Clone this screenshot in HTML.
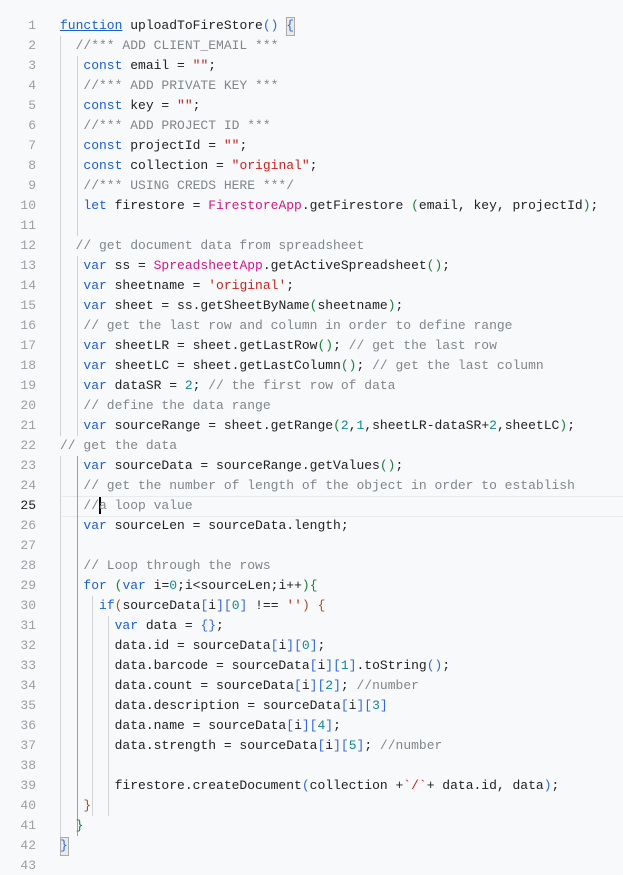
<!DOCTYPE html>
<html><head><meta charset="utf-8"><style>
html,body{margin:0;padding:0;background:#f8f9fa;width:623px;height:875px;overflow:hidden;position:relative}
.l{position:absolute;left:60px;height:20px;line-height:20px;font-family:"Liberation Mono",monospace;font-size:13px;white-space:pre;color:#202124}
.n{position:absolute;left:0;width:36px;text-align:right;height:20px;line-height:20px;font-family:"Liberation Mono",monospace;font-size:13px;color:#9aa0a6}
.k{color:#1a5fd0}.s{color:#c5221f}.m{color:#12858f}.c{color:#80868b}.g{color:#188038}.b{color:#3367d6}.r{color:#a0522d}.p{color:#d01884}
.v{position:absolute;width:1px;background:#d0d3d6}
</style></head><body>
<div style="position:absolute;left:62px;right:0;top:496px;height:19px;border-top:1px solid #e8eaed;border-bottom:1px solid #e8eaed"></div>
<div class="v" style="left:60px;top:36px;height:400px"></div>
<div class="v" style="left:60px;top:456px;height:400px"></div>
<div class="v" style="left:77px;top:56px;height:180px"></div>
<div class="v" style="left:77px;top:256px;height:180px"></div>
<div class="v" style="left:77px;top:456px;height:380px;background:#9aa0a6"></div>
<div class="v" style="left:92px;top:596px;height:220px"></div>
<div class="v" style="left:108px;top:616px;height:200px"></div>
<div style="position:absolute;left:99px;top:497px;width:2px;height:17px;background:#000"></div>
<div style="position:absolute;left:286px;top:17px;width:7px;height:17px;border:1px solid #aaa;background:#e8eaed"></div>
<div style="position:absolute;left:60px;top:837px;width:7px;height:17px;border:1px solid #aaa;background:#e8eaed"></div>

<div class="n" style="top:16px">1</div><div class="l" style="top:16px"><span class="k" style="text-decoration:underline">function</span> uploadToFireStore<span class="b">()</span> <span class="b">{</span></div>
<div class="n" style="top:36px">2</div><div class="l" style="top:36px"><span class="c">  //*** ADD CLIENT_EMAIL ***</span></div>
<div class="n" style="top:56px">3</div><div class="l" style="top:56px">   <span class="k">const</span> email = <span class="s">""</span>;</div>
<div class="n" style="top:76px">4</div><div class="l" style="top:76px"><span class="c">   //*** ADD PRIVATE KEY ***</span></div>
<div class="n" style="top:96px">5</div><div class="l" style="top:96px">   <span class="k">const</span> key = <span class="s">""</span>;</div>
<div class="n" style="top:116px">6</div><div class="l" style="top:116px"><span class="c">   //*** ADD PROJECT ID ***</span></div>
<div class="n" style="top:136px">7</div><div class="l" style="top:136px">   <span class="k">const</span> projectId = <span class="s">""</span>;</div>
<div class="n" style="top:156px">8</div><div class="l" style="top:156px">   <span class="k">const</span> collection = <span class="s">"original"</span>;</div>
<div class="n" style="top:176px">9</div><div class="l" style="top:176px"><span class="c">   //*** USING CREDS HERE ***/</span></div>
<div class="n" style="top:196px">10</div><div class="l" style="top:196px">   <span class="k">let</span> firestore = <span class="p">FirestoreApp</span>.getFirestore <span class="g">(</span>email, key, projectId<span class="g">)</span>;</div>
<div class="n" style="top:216px">11</div>
<div class="n" style="top:236px">12</div><div class="l" style="top:236px"><span class="c">  // get document data from spreadsheet</span></div>
<div class="n" style="top:256px">13</div><div class="l" style="top:256px">   <span class="k">var</span> ss = <span class="p">SpreadsheetApp</span>.getActiveSpreadsheet<span class="g">()</span>;</div>
<div class="n" style="top:276px">14</div><div class="l" style="top:276px">   <span class="k">var</span> sheetname = <span class="s">'original'</span>;</div>
<div class="n" style="top:296px">15</div><div class="l" style="top:296px">   <span class="k">var</span> sheet = ss.getSheetByName<span class="g">(</span>sheetname<span class="g">)</span>;</div>
<div class="n" style="top:316px">16</div><div class="l" style="top:316px"><span class="c">   // get the last row and column in order to define range</span></div>
<div class="n" style="top:336px">17</div><div class="l" style="top:336px">   <span class="k">var</span> sheetLR = sheet.getLastRow<span class="g">()</span>; <span class="c">// get the last row</span></div>
<div class="n" style="top:356px">18</div><div class="l" style="top:356px">   <span class="k">var</span> sheetLC = sheet.getLastColumn<span class="g">()</span>; <span class="c">// get the last column</span></div>
<div class="n" style="top:376px">19</div><div class="l" style="top:376px">   <span class="k">var</span> dataSR = <span class="m">2</span>; <span class="c">// the first row of data</span></div>
<div class="n" style="top:396px">20</div><div class="l" style="top:396px"><span class="c">   // define the data range</span></div>
<div class="n" style="top:416px">21</div><div class="l" style="top:416px">   <span class="k">var</span> sourceRange = sheet.getRange<span class="g">(</span><span class="m">2</span>,<span class="m">1</span>,sheetLR-dataSR+<span class="m">2</span>,sheetLC<span class="g">)</span>;</div>
<div class="n" style="top:436px">22</div><div class="l" style="top:436px"><span class="c">// get the data</span></div>
<div class="n" style="top:456px">23</div><div class="l" style="top:456px">   <span class="k">var</span> sourceData = sourceRange.getValues<span class="g">()</span>;</div>
<div class="n" style="top:476px">24</div><div class="l" style="top:476px"><span class="c">   // get the number of length of the object in order to establish</span></div>
<div class="n" style="top:496px;color:#202124">25</div><div class="l" style="top:496px"><span class="c">   //a loop value</span></div>
<div class="n" style="top:516px">26</div><div class="l" style="top:516px">   <span class="k">var</span> sourceLen = sourceData.length;</div>
<div class="n" style="top:536px">27</div>
<div class="n" style="top:556px">28</div><div class="l" style="top:556px"><span class="c">   // Loop through the rows</span></div>
<div class="n" style="top:576px">29</div><div class="l" style="top:576px">   <span class="k">for</span> <span class="g">(</span><span class="k">var</span> i=<span class="m">0</span>;i&lt;sourceLen;i++<span class="g">){</span></div>
<div class="n" style="top:596px">30</div><div class="l" style="top:596px">     <span class="k">if</span><span class="r">(</span>sourceData<span class="b">[</span>i<span class="b">][</span><span class="m">0</span><span class="b">]</span> !== <span class="s">''</span><span class="r">)</span> <span class="r">{</span></div>
<div class="n" style="top:616px">31</div><div class="l" style="top:616px">       <span class="k">var</span> data = <span class="b">{}</span>;</div>
<div class="n" style="top:636px">32</div><div class="l" style="top:636px">       data.id = sourceData<span class="b">[</span>i<span class="b">][</span><span class="m">0</span><span class="b">]</span>;</div>
<div class="n" style="top:656px">33</div><div class="l" style="top:656px">       data.barcode = sourceData<span class="b">[</span>i<span class="b">][</span><span class="m">1</span><span class="b">]</span>.toString<span class="b">()</span>;</div>
<div class="n" style="top:676px">34</div><div class="l" style="top:676px">       data.count = sourceData<span class="b">[</span>i<span class="b">][</span><span class="m">2</span><span class="b">]</span>; <span class="c">//number</span></div>
<div class="n" style="top:696px">35</div><div class="l" style="top:696px">       data.description = sourceData<span class="b">[</span>i<span class="b">][</span><span class="m">3</span><span class="b">]</span></div>
<div class="n" style="top:716px">36</div><div class="l" style="top:716px">       data.name = sourceData<span class="b">[</span>i<span class="b">][</span><span class="m">4</span><span class="b">]</span>;</div>
<div class="n" style="top:736px">37</div><div class="l" style="top:736px">       data.strength = sourceData<span class="b">[</span>i<span class="b">][</span><span class="m">5</span><span class="b">]</span>; <span class="c">//number</span></div>
<div class="n" style="top:756px">38</div>
<div class="n" style="top:776px">39</div><div class="l" style="top:776px">       firestore.createDocument<span class="b">(</span>collection +<span class="s">`/`</span>+ data.id, data<span class="b">)</span>;</div>
<div class="n" style="top:796px">40</div><div class="l" style="top:796px">   <span class="r">}</span></div>
<div class="n" style="top:816px">41</div><div class="l" style="top:816px">  <span class="g">}</span></div>
<div class="n" style="top:836px">42</div><div class="l" style="top:836px"><span class="b">}</span></div>
<div class="n" style="top:856px">43</div>
</body></html>
